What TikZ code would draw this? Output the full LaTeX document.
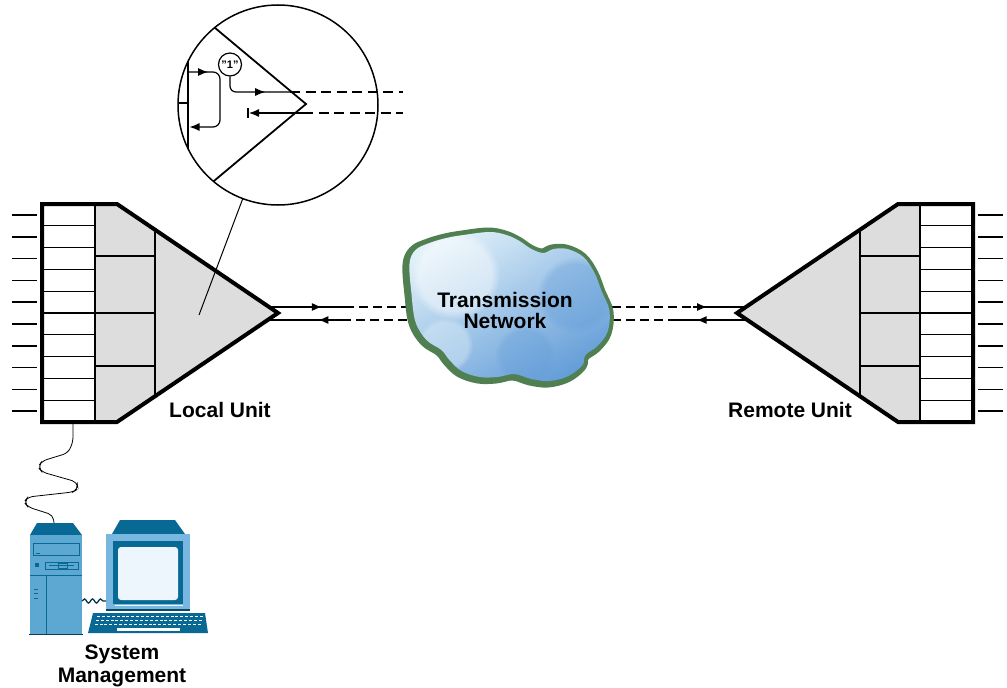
\documentclass[tikz,border=0pt]{standalone}
\usepackage{fontspec}
\setmainfont{Liberation Sans}
\usetikzlibrary{arrows.meta,decorations.markings,decorations.pathmorphing,fadings}

\definecolor{unitgray}{RGB}{221,221,221}
\definecolor{cloudgreen}{RGB}{80,128,82}
\definecolor{skylight}{RGB}{224,240,249}
\definecolor{skymid}{RGB}{160,204,234}
\definecolor{skydeep}{RGB}{98,156,216}
\definecolor{pcdark}{RGB}{8,106,148}
\definecolor{pcbody}{RGB}{92,168,211}
\definecolor{pcmon}{RGB}{120,184,224}
\definecolor{pcscreen}{RGB}{238,246,253}

\tikzset{
  unitline/.style={line width=4pt, line join=miter, miter limit=10},
  cellline/.style={line width=1.2pt},
  pinline/.style={line width=1.6pt},
  captxt/.style={font=\fontsize{21}{23}\selectfont\bfseries, inner sep=0pt, anchor=base},
  sig/.style={line width=1.3pt},
  sigdash/.style={line width=1.3pt, dash pattern=on 9pt off 5pt},
  headtip/.tip={Latex[length=10pt,width=8pt]},
  flowtip/.style={postaction={decorate}, decoration={markings,
      mark=at position #1 with {\arrow{headtip}}}},
  % one terminal unit: line cards, group cards and the multiplexer wedge
  unit/.pic={
    \fill[unitgray] (95,204) -- (117,204) -- (278,313) -- (117,422) -- (95,422) -- cycle;
    \fill[white] (42,204) rectangle (95,422);
    \foreach \k in {1,...,9}
      \draw[cellline] (42,{204+21.8*\k}) -- (95,{204+21.8*\k});
    \foreach \yy in {256,313,366}
      \draw[cellline] (95,\yy) -- (155,\yy);
    \draw[cellline] (95,204) -- (95,422);
    \draw[cellline] (155,229.7) -- (155,396.3);
    \draw[unitline] (42,204) -- (117,204) -- (278,313) -- (117,422) -- (42,422) -- cycle;
    \foreach \k in {0,...,9}
      \draw[pinline] (12,{214.9+21.8*\k}) -- (37,{214.9+21.8*\k});
    \coordinate (-tx) at (268,307);
    \coordinate (-rx) at (268,320);
  }
}

\begin{document}
\begin{tikzpicture}[x=1pt,y=-1pt]
\useasboundingbox (0,0) rectangle (1007,688);

% break points between solid and dashed sections of the link
\coordinate (ltbreak) at (345,307);
\coordinate (lrbreak) at (342,320);
\coordinate (rtbreak) at (693,307);
\coordinate (rrbreak) at (677,320);
\coordinate (cloudw1) at (420,307);
\coordinate (cloudw2) at (420,320);
\coordinate (cloude1) at (598,307);
\coordinate (cloude2) at (598,320);
\coordinate (ltx) at (268,307);
\coordinate (lrx) at (268,320);
\coordinate (rtx) at (747,307);
\coordinate (rrx) at (747,320);

% link between the units
\draw[sig, flowtip=0.7] (ltx) -- (ltbreak);
\draw[sigdash] (ltbreak) -- (cloudw1);
\draw[sig, flowtip=0.32] (lrbreak) -- (lrx);
\draw[sigdash] (lrbreak) -- (cloudw2);
\draw[sigdash] (cloude1) -- (rtbreak);
\draw[sig, flowtip=0.26] (rtbreak) -- (rtx);
\draw[sigdash] (cloude2) -- (rrbreak);
\draw[sig, flowtip=0.72] (rrx) -- (rrbreak);

% transmission network cloud: green rim, sky coloured body
\fill[cloudgreen, shift={(-3,3)}] plot[smooth cycle, tension=0.6] coordinates {
  (408,265) (414,251) (428,244) (445,239) (462,236) (488,233) (505,236)
  (518,242) (530,250) (542,254) (552,250) (566,250) (582,258) (593,274)
  (600,292) (608,312) (606,333) (596,347) (584,356) (581,366) (567,377)
  (548,382) (530,380) (513,375) (496,378) (478,378) (460,372) (448,361)
  (440,351) (425,341) (414,323) (410,295)};
\filldraw[cloudgreen, line width=11pt, line join=round] plot[smooth cycle, tension=0.6] coordinates {
  (408,265) (414,251) (428,244) (445,239) (462,236) (488,233) (505,236)
  (518,242) (530,250) (542,254) (552,250) (566,250) (582,258) (593,274)
  (600,292) (608,312) (606,333) (596,347) (584,356) (581,366) (567,377)
  (548,382) (530,380) (513,375) (496,378) (478,378) (460,372) (448,361)
  (440,351) (425,341) (414,323) (410,295)};
\begin{scope}
  \clip[shift={(1.5,-1)}] plot[smooth cycle, tension=0.6] coordinates {
    (408,265) (414,251) (428,244) (445,239) (462,236) (488,233) (505,236)
    (518,242) (530,250) (542,254) (552,250) (566,250) (582,258) (593,274)
    (600,292) (608,312) (606,333) (596,347) (584,356) (581,366) (567,377)
    (548,382) (530,380) (513,375) (496,378) (478,378) (460,372) (448,361)
    (440,351) (425,341) (414,323) (410,295)};
  \shade[shading=axis, top color=skylight, bottom color=skydeep, shading angle=30]
    (400,225) rectangle (615,390);
  \fill[white, fill opacity=0.45, path fading=circle with fuzzy edge 20 percent] (455,275) circle[radius=45];
  \fill[skydeep, fill opacity=0.35, path fading=circle with fuzzy edge 20 percent] (575,295) circle[radius=38];
  \fill[skydeep, fill opacity=0.3, path fading=circle with fuzzy edge 20 percent] (525,355) circle[radius=30];
  \fill[skylight, fill opacity=0.4, path fading=circle with fuzzy edge 20 percent] (445,345) circle[radius=28];
\end{scope}
\node[captxt] (tnet1) at (505,307) {Transmission};
\node[captxt] (tnet2) at (505,328) {Network};

% terminal units
\pic (local) at (0,0) {unit};
\pic[xscale=-1] (remote) at (1015,0) {unit};
\node[captxt] (localname) at (220,417) {Local Unit};
\node[captxt] (remotename) at (790,417) {Remote Unit};

% magnified view of the local unit
\coordinate (zoomspot) at (199,315);
\node[circle, draw, line width=1.5pt, minimum size=200pt, inner sep=0pt, outer sep=0pt] (lens) at (278,105) {};
\draw[line width=1pt] (lens) -- (zoomspot);
\begin{scope}
  \clip (278,105) circle[radius=100];
  \draw[line width=1.8pt, line join=miter] (190,7) -- (306,104) -- (190,201);
  \draw[line width=2.2pt] (188,0) -- (188,210);
  \draw[cellline] (170,103) -- (188,103);
\end{scope}
\coordinate (loopa) at (188,72);
\coordinate (loopb) at (189.5,127);
\draw[cellline, rounded corners=7, flowtip=0.18, -headtip]
  (loopa) -- (220,72) -- (220,127) -- (loopb);
\node[circle, draw, line width=1.2pt, minimum size=23pt, inner sep=0pt,
      font=\fontsize{11}{11}\selectfont\bfseries] (one) at (230,64.5) {"1"};
\coordinate (zbreak1) at (290,92);
\coordinate (zbreak2) at (303,113);
\coordinate (zend1) at (403,92);
\coordinate (zend2) at (403,113);
\coordinate (zstop) at (249,113);
\draw[cellline, rounded corners=6, flowtip=0.66] (one.south) -- (230,92) -- (zbreak1);
\draw[sigdash, dash pattern=on 10pt off 5.5pt] (zbreak1) -- (zend1);
\draw[cellline, -headtip] (zbreak2) -- (zstop);
\draw[cellline] (248,108) -- (248,118);
\draw[sigdash, dash pattern=on 10pt off 5.5pt] (zbreak2) -- (zend2);

% management workstation
\coordinate (mgmtport) at (73,422);
\coordinate (pctop) at (54,523);
\draw[line width=0.8pt, rounded corners=5] (mgmtport) -- (73,442) -- (68,453) -- (42,461)
  -- (38,467) -- (42,472) -- (77,482) -- (78,489) -- (73,492) -- (28,497) -- (24,502)
  -- (28,507) -- (53,515) -- (pctop);

% tower
\fill[pcdark] (37,523) -- (73,523) -- (82,535) -- (30,535) -- cycle;
\fill[pcbody] (30,535) rectangle (82,634);
\draw[pcdark, line width=1pt] (33,543) rectangle (79,555);
\draw[pcdark, line width=1pt] (36,553) -- (40,553);
\fill[pcdark] (35,563) rectangle (38.5,567);
\draw[pcdark, line width=1pt] (45,562) rectangle (78,569);
\draw[pcdark, line width=0.8pt] (49,565.5) -- (74,565.5);
\draw[pcdark, line width=0.8pt] (58,563) rectangle (67,568);
\draw[pcdark, line width=1pt] (30,575) -- (82,575);
\draw[pcdark, line width=1pt] (46,575) -- (46,634);
\foreach \yy in {589,593.5,598}
  \draw[pcdark, line width=1pt] (34,\yy) -- (38,\yy);
\draw[pcdark!60!black, line width=1.2pt] (29,634.5) -- (83,634.5);

% monitor
\fill[pcdark] (120,520) -- (175,520) -- (185,534) -- (112,534) -- cycle;
\fill[pcmon] (106,534) rectangle (190,610);
\fill[pcdark] (113,541) rectangle (183,604);
\fill[pcscreen, rounded corners=3] (118,547) rectangle (178,600);
\fill[pcscreen] (115,604.5) rectangle (183,606);
\draw[pcdark!70!black, line width=1.2pt] (106,610) -- (190,610);

% link between tower and monitor
\draw[pcdark!50!black, line width=1.3pt, decorate,
      decoration={snake, amplitude=2pt, segment length=8pt}] (82,601) -- (106,601);

% keyboard
\fill[pcdark] (93,613) -- (205,613) -- (208,633) -- (88,633) -- cycle;
\foreach \r in {0,1,2}
  \foreach \c in {0,...,21}
    \fill[white] ({97-1.2*\r+4.9*\c},{615.5+4*\r}) rectangle ++(3,1.7);
\fill[white] (117,627.5) rectangle (180,630.5);

\node[captxt] (sysname1) at (122,659) {System};
\node[captxt] (sysname2) at (122,682) {Management};
\end{tikzpicture}
\end{document}
